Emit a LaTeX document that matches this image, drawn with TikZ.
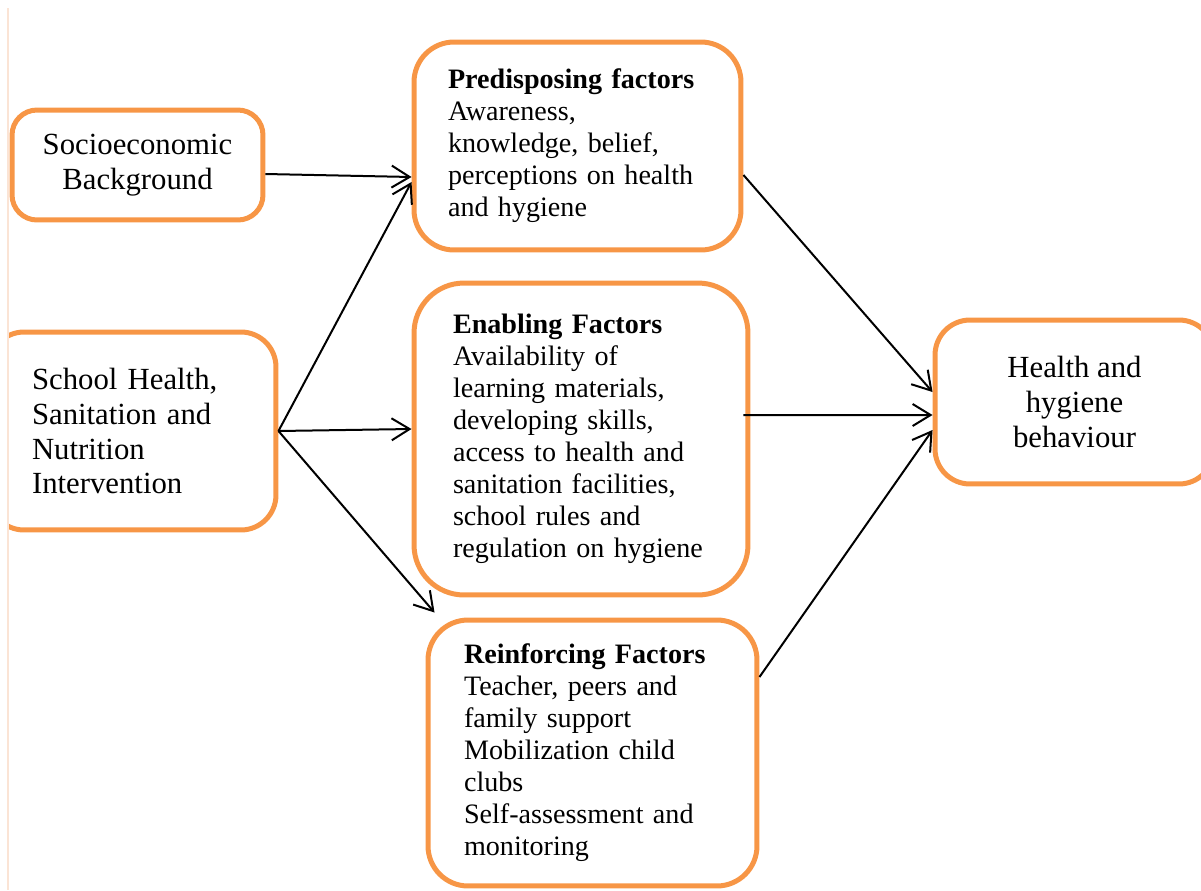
\documentclass[tikz,border=0pt]{standalone}
\usepackage{fontspec}
\setmainfont{Liberation Serif}
\usetikzlibrary{arrows.meta}
\definecolor{boxorange}{HTML}{F79646}
\definecolor{marginline}{HTML}{FBE4D5}

\begin{document}
\begin{tikzpicture}[x=0.02cm,y=-0.02cm,
    factor/.style={draw=boxorange, line width=0.1cm, rounded corners=0.8cm,
        align=left, inner ysep=2pt, font=\fontsize{16}{18.2}\selectfont},
    source/.style={draw=boxorange, line width=0.1cm, rounded corners=0.7cm,
        inner sep=2pt, font=\fontsize{17.5}{19.9}\selectfont},
    link/.style={line width=0.04cm, -{Straight Barb[length=3.6mm,width=4.4mm]}}]
    \useasboundingbox (0,0) rectangle (1201,890);
    % page margin line
    \draw[marginline, line width=0.04cm] (8,8) -- (8,890);
    % draw boxes on the left
    \node[source, rounded corners=0.5cm, align=center, minimum width=5.02cm,
        minimum height=2.2cm] (socio) at (137.5,165)
        {Socioeconomic\\Background};%socioeconomic
    \begin{scope}
        \clip (9,0) rectangle (400,890);
        \node[source, align=left, inner xsep=0.86cm, text width=4.02cm,
            minimum height=3.96cm] (school) at (132.5,431)
            {School Health,\\Sanitation and\\Nutrition\\Intervention};%school
    \end{scope}
    % draw factor boxes
    \node[factor, inner xsep=0.68cm, text width=5.18cm, minimum height=4.16cm]
        (pred) at (577.5,146)
        {\textbf{Predisposing factors}\\Awareness,\\knowledge, belief,\\perceptions on health\\and hygiene};%predisposing
    \node[factor, rounded corners=1cm, inner xsep=0.78cm, text width=5.12cm,
        minimum height=6.24cm] (enab) at (581,439)
        {\textbf{Enabling Factors}\\Availability of\\learning materials,\\developing skills,\\access to health and\\sanitation facilities,\\school rules and\\regulation on hygiene};%enabling
    \node[factor, inner xsep=0.72cm, text width=5.14cm, minimum height=5.32cm]
        (reinf) at (592.5,753)
        {\textbf{Reinforcing Factors}\\Teacher, peers and\\family support\\Mobilization child\\clubs\\Self-assessment and\\monitoring};%reinforcing
    % draw outcome box
    \node[source, align=center, minimum width=5.58cm, minimum height=3.28cm]
        (behav) at (1074.5,402) {Health and\\hygiene\\behaviour};%behaviour
    % draw arrows
    \draw[link] ([yshift=-0.18cm]socio.east) -- ([yshift=-0.62cm]pred.west);
    \draw[link] (school.east) -- ([yshift=-0.72cm]pred.west);
    \draw[link] (school.east) -- ([yshift=0.2cm]enab.west);
    \draw[link] (school.east) -- ([xshift=0.18cm,yshift=0.1cm]reinf.north west);
    \draw[link] ([yshift=-0.58cm]pred.east) -- ([yshift=0.2cm]behav.west);
    \draw[link] ([xshift=-0.14cm,yshift=0.48cm]enab.east) -- ([yshift=-0.26cm]behav.west);
    \draw[link] ([yshift=1.52cm]reinf.east) -- ([yshift=-0.56cm]behav.west);
\end{tikzpicture}
\end{document}
